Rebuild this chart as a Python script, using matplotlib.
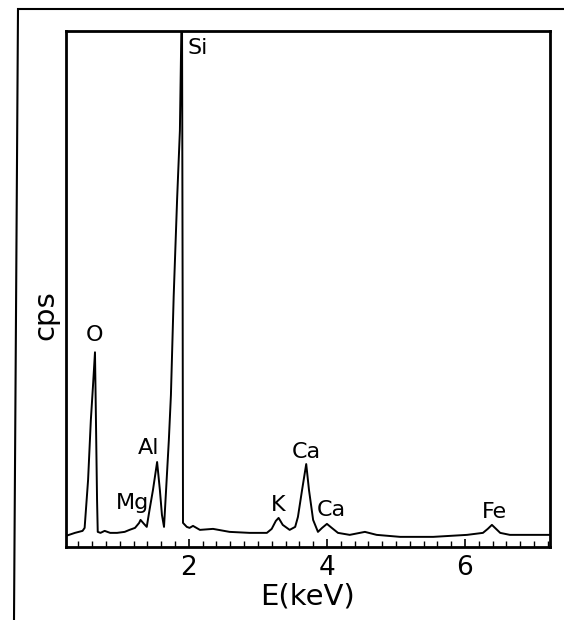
import matplotlib
matplotlib.use('Agg')
import matplotlib.pyplot as plt
from matplotlib.lines import Line2D

# EDS spectrum (energy in keV, counts in arbitrary units)
energy = [0.22, 0.35, 0.46, 0.49, 0.54, 0.58, 0.61, 0.64, 0.65, 0.67, 0.68, 0.72,
          0.78, 0.86, 0.96, 1.07, 1.14, 1.22, 1.28, 1.30, 1.35, 1.39, 1.43, 1.48,
          1.54, 1.58, 1.61, 1.64, 1.67, 1.71, 1.74, 1.78, 1.83, 1.87, 1.90, 1.91,
          1.915, 1.97, 2.01, 2.06, 2.16, 2.35, 2.59, 2.88, 3.13, 3.20, 3.26, 3.30,
          3.36, 3.46, 3.54, 3.58, 3.64, 3.70, 3.74, 3.80, 3.87, 3.93, 4.00, 4.07,
          4.16, 4.33, 4.55, 4.72, 5.06, 5.54, 6.03, 6.26, 6.33, 6.39, 6.45, 6.51,
          6.65, 6.99, 7.23]
counts = [11, 14, 16, 19, 67, 127, 160, 195, 147, 47, 15, 14,
          16, 14, 14, 15, 17, 19, 24, 27, 23, 20, 37, 57,
          85, 57, 32, 20, 57, 107, 152, 251, 349, 417, 560, 247,
          24, 20, 19, 21, 17, 18, 15, 14, 14, 18, 26, 29,
          22, 17, 20, 30, 57, 83, 57, 27, 15, 19, 23, 19,
          14, 12, 15, 12, 10, 10, 12, 14, 18, 22, 18, 14,
          12, 12, 12]

peak_labels = ['Si', 'O', 'Al', 'Mg', 'K', 'Ca', 'Ca', 'Fe']
label_x = [1.98, 0.64, 1.42, 1.19, 3.29, 3.70, 4.06, 6.43]
label_y = [500, 212, 99, 44, 42, 95, 37, 35]
label_ha = ['left', 'center', 'center', 'center', 'center', 'center', 'center', 'center']

fig = plt.figure(figsize=(5.64, 6.20), dpi=100)
ax = fig.add_axes([0.117, 0.118, 0.858, 0.832])

ax.plot(energy, counts, color='black', lw=1.4)
ax.set_xlim(0.22, 7.23)
ax.set_ylim(0, 517)

for lab, x, y, ha in zip(peak_labels, label_x, label_y, label_ha):
    ax.text(x, y, lab, ha=ha, va='center', fontsize=16)

ax.set_xticks([2, 4, 6])
ax.set_xticks([i * 0.2 for i in range(2, 37)], minor=True)
ax.set_yticks([])
ax.tick_params(axis='x', which='major', direction='in', length=6, width=1.2,
               labelsize=19, pad=6)
ax.tick_params(axis='x', which='minor', direction='in', length=4, width=1)
for s in ax.spines.values():
    s.set_linewidth(2)

ax.set_xlabel('E(keV)', fontsize=21, labelpad=1)
fig.text(45 / 564, 1 - 315 / 620, 'cps', rotation=90, fontsize=21,
         ha='center', va='center')

# border of the scanned figure
fig.add_artist(Line2D([20 / 564, 1], [1 - 9 / 620, 1 - 9 / 620], color='black', lw=1.5))
fig.add_artist(Line2D([18 / 564, 14 / 564], [1 - 9 / 620, 0], color='black', lw=1.5))

fig.savefig('out.png', dpi=100, facecolor='white')
